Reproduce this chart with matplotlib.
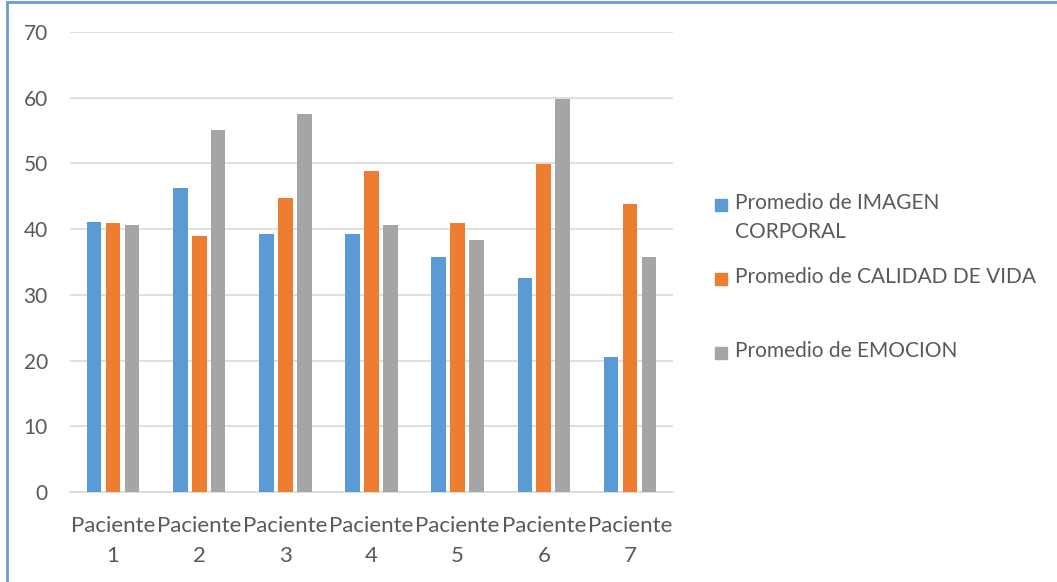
import numpy as np
import matplotlib.pyplot as plt
from matplotlib.patches import Rectangle
from matplotlib.lines import Line2D

# Datos por paciente
pacientes = ["Paciente\n1", "Paciente\n2", "Paciente\n3", "Paciente\n4",
             "Paciente\n5", "Paciente\n6", "Paciente\n7"]
imagen_corporal = [41.1, 46.2, 39.3, 39.3, 35.8, 32.5, 20.5]
calidad_vida = [40.9, 39.0, 44.8, 48.9, 40.9, 49.9, 43.8]
emocion = [40.7, 55.1, 57.5, 40.7, 38.4, 59.8, 35.8]

series = ["Promedio de IMAGEN\nCORPORAL", "Promedio de CALIDAD DE VIDA",
          "Promedio de EMOCION"]
colores = ["#5B9BD5", "#ED7D31", "#A5A5A5"]
texto = "#595959"

plt.rcParams['font.family'] = ['Lato', 'DejaVu Sans']

fig = plt.figure(figsize=(10.57, 5.82), dpi=100)
ax = fig.add_axes([70 / 1057, 1 - 492 / 582, 603 / 1057, 460 / 582])

x = np.arange(len(pacientes))
paso = 0.22
ancho = 0.17
for i, (valores, color) in enumerate(zip([imagen_corporal, calidad_vida, emocion], colores)):
    ax.bar(x + (i - 1) * paso, valores, width=ancho, color=color, zorder=3)

ax.set_xlim(-0.5, len(pacientes) - 0.5)
ax.set_ylim(0, 70)
ax.set_yticks(range(0, 71, 10))
ax.yaxis.grid(True, color="#D9D9D9", linewidth=1.2, zorder=0)
ax.set_xticks(x)
ax.set_xticklabels(pacientes, fontsize=16, color=texto, linespacing=1.65)
ax.tick_params(axis="y", labelsize=15, labelcolor=texto, length=0, pad=16)
ax.tick_params(axis="x", length=0, pad=17)
for lado in ["top", "right", "left"]:
    ax.spines[lado].set_visible(False)
ax.spines["bottom"].set_color("#D9D9D9")
ax.spines["bottom"].set_linewidth(1.2)

# Leyenda a la derecha
for i, (nombre, color) in enumerate(zip(series, colores)):
    yc = 1 - (205 + i * 74) / 582
    fig.patches.append(Rectangle((715 / 1057, yc - 6 / 582), 12 / 1057, 12 / 582,
                                 color=color, transform=fig.transFigure))
    fig.text(735 / 1057, yc + 12 / 582, nombre, fontsize=15, color=texto,
             va="top", ha="left", linespacing=1.55)

# Marco azul del gráfico
fig.lines.append(Line2D([7 / 1057, 1], [1 - 2 / 582, 1 - 2 / 582], color="#6A9FD4",
                        linewidth=2, transform=fig.transFigure))
fig.lines.append(Line2D([7 / 1057, 7 / 1057], [0, 1 - 2 / 582], color="#6A9FD4",
                        linewidth=2, transform=fig.transFigure))

fig.savefig("out.png", dpi=100)
